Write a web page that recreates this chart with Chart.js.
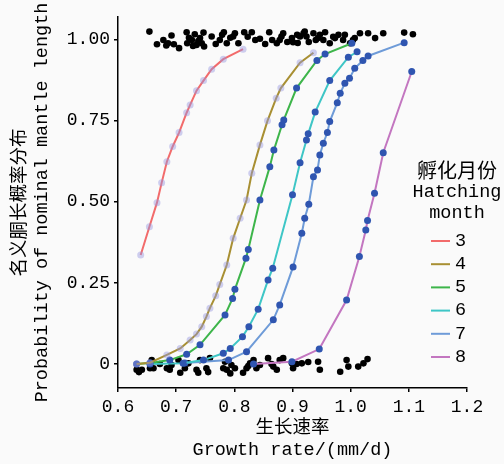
<!DOCTYPE html>
<html><head><meta charset="utf-8">
<script src="https://cdn.jsdelivr.net/npm/chart.js@4.4.1/dist/chart.umd.min.js"></script>
<style>html,body{margin:0;padding:0;background:#fafafa;}#c{display:block;}</style>
</head><body>
<canvas id="c" width="504" height="464"></canvas>
<script>
// ---- data ----
const months = ['3','4','5','6','7','8'];
const legendTitle = ['孵化月份','Hatching','month'];
const yTitle = ['名义胴长概率分布','Probability of nominal mantle length'];
const xTitle = ['生长速率','Growth rate/(mm/d)'];
const xTickValues = [0.6,0.7,0.8,0.9,1.0,1.1,1.2];
const xTickLabels = ['0.6','0.7','0.8','0.9','1.0','1.1','1.2'];
const yTickValues = [0,0.25,0.5,0.75,1.0];
const yTickLabels = ['0','0.25','0.50','0.75','1.00'];

const rate3 = [0.639,0.654,0.667,0.675,0.684,0.694,0.705,0.718,0.724,0.735,0.747,0.761,0.781,0.815];
const prob3 = [0.336,0.423,0.497,0.558,0.623,0.670,0.713,0.774,0.798,0.842,0.873,0.908,0.939,0.970];
const rate4 = [0.632,0.655,0.684,0.707,0.724,0.735,0.744,0.752,0.758,0.768,0.775,0.787,0.798,0.810,0.821,0.830,0.844,0.857,0.872,0.880,0.913,0.936];
const prob4 = [0.000,0.004,0.028,0.048,0.074,0.092,0.115,0.146,0.172,0.210,0.245,0.305,0.387,0.449,0.505,0.588,0.675,0.749,0.819,0.850,0.928,0.959];
const rate5 = [0.632,0.655,0.689,0.718,0.741,0.784,0.797,0.801,0.820,0.824,0.844,0.861,0.868,0.882,0.885,0.907,0.942,0.956,1.002];
const prob5 = [0.000,0.003,0.012,0.030,0.059,0.151,0.202,0.230,0.326,0.353,0.505,0.608,0.659,0.737,0.752,0.850,0.935,0.955,0.988];
const rate6 = [0.655,0.712,0.747,0.781,0.793,0.814,0.825,0.841,0.858,0.866,0.900,0.913,0.924,0.927,0.939,0.964,0.996,1.011];
const prob6 = [0.000,0.002,0.012,0.033,0.048,0.084,0.115,0.169,0.259,0.295,0.521,0.620,0.690,0.709,0.776,0.873,0.945,0.962];
const rate7 = [0.715,0.790,0.821,0.867,0.878,0.901,0.916,0.921,0.928,0.936,0.943,0.947,0.953,0.960,0.964,0.977,0.982,0.990,0.998,1.007,1.021,1.030,1.092];
const prob7 = [0.003,0.012,0.038,0.136,0.182,0.299,0.403,0.449,0.492,0.577,0.598,0.644,0.680,0.713,0.747,0.805,0.834,0.865,0.880,0.911,0.935,0.949,0.990];
const rate8 = [0.833,0.899,0.946,0.993,1.015,1.026,1.029,1.041,1.056,1.105];
const prob8 = [0.000,0.007,0.046,0.197,0.331,0.413,0.442,0.526,0.651,0.901];

const obsTopRate = [0.654,0.667,0.678,0.683,0.686,0.692,0.696,0.705,0.718,0.719,0.722,0.727,0.729,0.732,0.735,0.738,0.741,0.744,0.747,0.748,0.761,0.768,0.775,0.779,0.782,0.787,0.793,0.798,0.801,0.807,0.817,0.823,0.830,0.836,0.844,0.853,0.860,0.865,0.873,0.878,0.881,0.884,0.891,0.899,0.901,0.908,0.909,0.913,0.919,0.921,0.924,0.928,0.936,0.940,0.944,0.947,0.953,0.956,0.964,0.970,0.973,0.979,0.987,0.990,0.999,1.004,1.007,1.016,1.030,1.042,1.056,1.092,1.107];
const obsTopProb = [1.024,0.985,0.998,0.981,0.988,1.012,0.985,0.973,1.022,0.988,1.005,0.998,0.980,1.016,0.983,0.995,1.004,0.988,1.021,0.978,1.009,0.986,0.998,1.014,1.022,0.988,1.005,1.009,1.019,0.988,1.022,1.008,1.022,0.998,1.002,0.986,1.022,0.998,0.988,0.998,1.009,1.019,0.992,1.004,0.991,1.014,0.989,1.009,1.019,1.024,1.009,0.992,1.019,0.998,1.004,1.014,0.998,1.022,0.988,1.008,1.004,1.014,0.998,1.014,0.988,0.998,1.004,1.019,1.019,1.004,1.019,1.021,1.016];
const obsBottomRate = [0.632,0.636,0.641,0.655,0.658,0.661,0.672,0.684,0.689,0.692,0.704,0.707,0.715,0.721,0.735,0.738,0.741,0.752,0.755,0.758,0.781,0.784,0.787,0.793,0.795,0.801,0.815,0.821,0.824,0.827,0.833,0.838,0.844,0.858,0.864,0.867,0.873,0.878,0.884,0.899,0.901,0.907,0.916,0.927,0.944,0.947,0.982,0.993,0.996,1.013,1.022,1.029];
const obsBottomProb = [-0.018,-0.025,-0.018,-0.013,0.012,-0.013,0.000,-0.013,-0.018,-0.003,0.012,-0.027,-0.013,0.002,-0.018,-0.027,0.012,-0.013,-0.025,0.018,-0.013,0.007,-0.018,-0.029,-0.003,-0.013,-0.027,-0.013,-0.006,0.002,0.012,-0.013,-0.003,0.018,0.000,-0.008,-0.018,0.012,0.018,0.002,-0.013,0.000,0.002,0.006,0.007,-0.018,-0.024,0.012,-0.008,-0.008,0.002,0.015];

// ---- styles ----
const lineColors = ['#F26B6B','#A88F32','#3DB54A','#3EC6C6','#6E9BD8','#C376C0'];
const pointFill = ['rgba(150,150,225,0.45)','rgba(150,150,225,0.45)','#2F55B0','#2F55B0','#2F55B0','#2F55B0'];
const LATIN = '"Liberation Mono", "Noto Sans CJK SC", monospace';
const CJK = '"Noto Sans CJK SC", sans-serif';

const rates = [rate3,rate4,rate5,rate6,rate7,rate8];
const probs = [prob3,prob4,prob5,prob6,prob7,prob8];
const toXY = (xs, ys) => xs.map((x,i) => ({x, y: ys[i]}));

const datasets = months.map((m,i) => ({
  label: m,
  data: toXY(rates[i], probs[i]),
  showLine: true,
  borderColor: lineColors[i],
  borderWidth: 2,
  tension: 0,
  pointRadius: 3.5,
  pointBackgroundColor: pointFill[i],
  pointBorderColor: pointFill[i],
  pointBorderWidth: 0,
  order: i
}));
datasets.push({label:'obsTop', data: toXY(obsTopRate, obsTopProb), showLine:false, pointRadius:3.3, backgroundColor:'#000', borderColor:'#000', pointBorderWidth:0, order:10});
datasets.push({label:'obsBottom', data: toXY(obsBottomRate, obsBottomProb), showLine:false, pointRadius:3.3, backgroundColor:'#000', borderColor:'#000', pointBorderWidth:0, order:10});

const legendPlugin = {
  id: 'customLegend',
  afterDraw(chart) {
    const ctx = chart.ctx;
    ctx.save();
    ctx.fillStyle = '#000';
    ctx.textBaseline = 'middle';
    ctx.textAlign = 'center';
    ctx.font = '20px ' + CJK;
    ctx.fillText(legendTitle[0], 457, 170);
    ctx.font = '18.5px ' + LATIN;
    ctx.fillText(legendTitle[1], 457, 192);
    ctx.fillText(legendTitle[2], 457, 213);
    ctx.textAlign = 'left';
    months.forEach((m,i) => {
      const y = 241 + i*23.2;
      ctx.strokeStyle = lineColors[i];
      ctx.lineWidth = 2;
      ctx.beginPath(); ctx.moveTo(431, y); ctx.lineTo(450, y); ctx.stroke();
      ctx.fillText(m, 455, y);
    });
    ctx.restore();
  }
};

const bg = {
  id: 'bg',
  beforeDraw(chart){ const c = chart.ctx; c.save(); c.fillStyle='#fafafa'; c.fillRect(0,0,chart.width,chart.height); c.restore(); }
};

new Chart(document.getElementById('c'), {
  type: 'scatter',
  data: { datasets },
  plugins: [bg, legendPlugin],
  options: {
    responsive: false,
    animation: false,
    devicePixelRatio: 1,
    layout: { padding: { top: 17, right: 37, left: 0, bottom: 0 } },
    plugins: { legend: { display: false }, tooltip: { enabled: false } },
    scales: {
      x: {
        type: 'linear', min: 0.6, max: 1.2,
        afterFit(s){ s.height = 76; },
        afterBuildTicks(s){ s.ticks = xTickValues.map(v => ({value: v})); },
        ticks: { callback: (v,i) => xTickLabels[i], color:'#000', font:{family:LATIN, size:18}, padding: 4, maxRotation: 0, autoSkip: false },
        grid: { display: true, drawOnChartArea: false, drawTicks: true, tickLength: 4, color: '#000', lineWidth: 1.5 },
        border: { display: true, color: '#000', width: 1.5 },
        title: { display: true, text: xTitle, color:'#000', font:{family:LATIN, size:18.5, lineHeight:1.2}, padding:{top:0, bottom:3} }
      },
      y: {
        type: 'linear', min: -0.074, max: 1.069,
        afterFit(s){ s.width = 118; },
        afterBuildTicks(s){ s.ticks = yTickValues.map(v => ({value: v})); },
        ticks: { callback: (v,i) => yTickLabels[i], color:'#000', font:{family:LATIN, size:18}, padding: 4 },
        grid: { display: true, drawOnChartArea: false, drawTicks: true, tickLength: 4, color: '#000', lineWidth: 1.5 },
        border: { display: true, color: '#000', width: 1.5 },
        title: { display: true, text: yTitle, color:'#000', font:{family:LATIN, size:18.5, lineHeight:1.2}, padding:{top:9, bottom:0} }
      }
    }
  }
});
</script>
</body></html>
